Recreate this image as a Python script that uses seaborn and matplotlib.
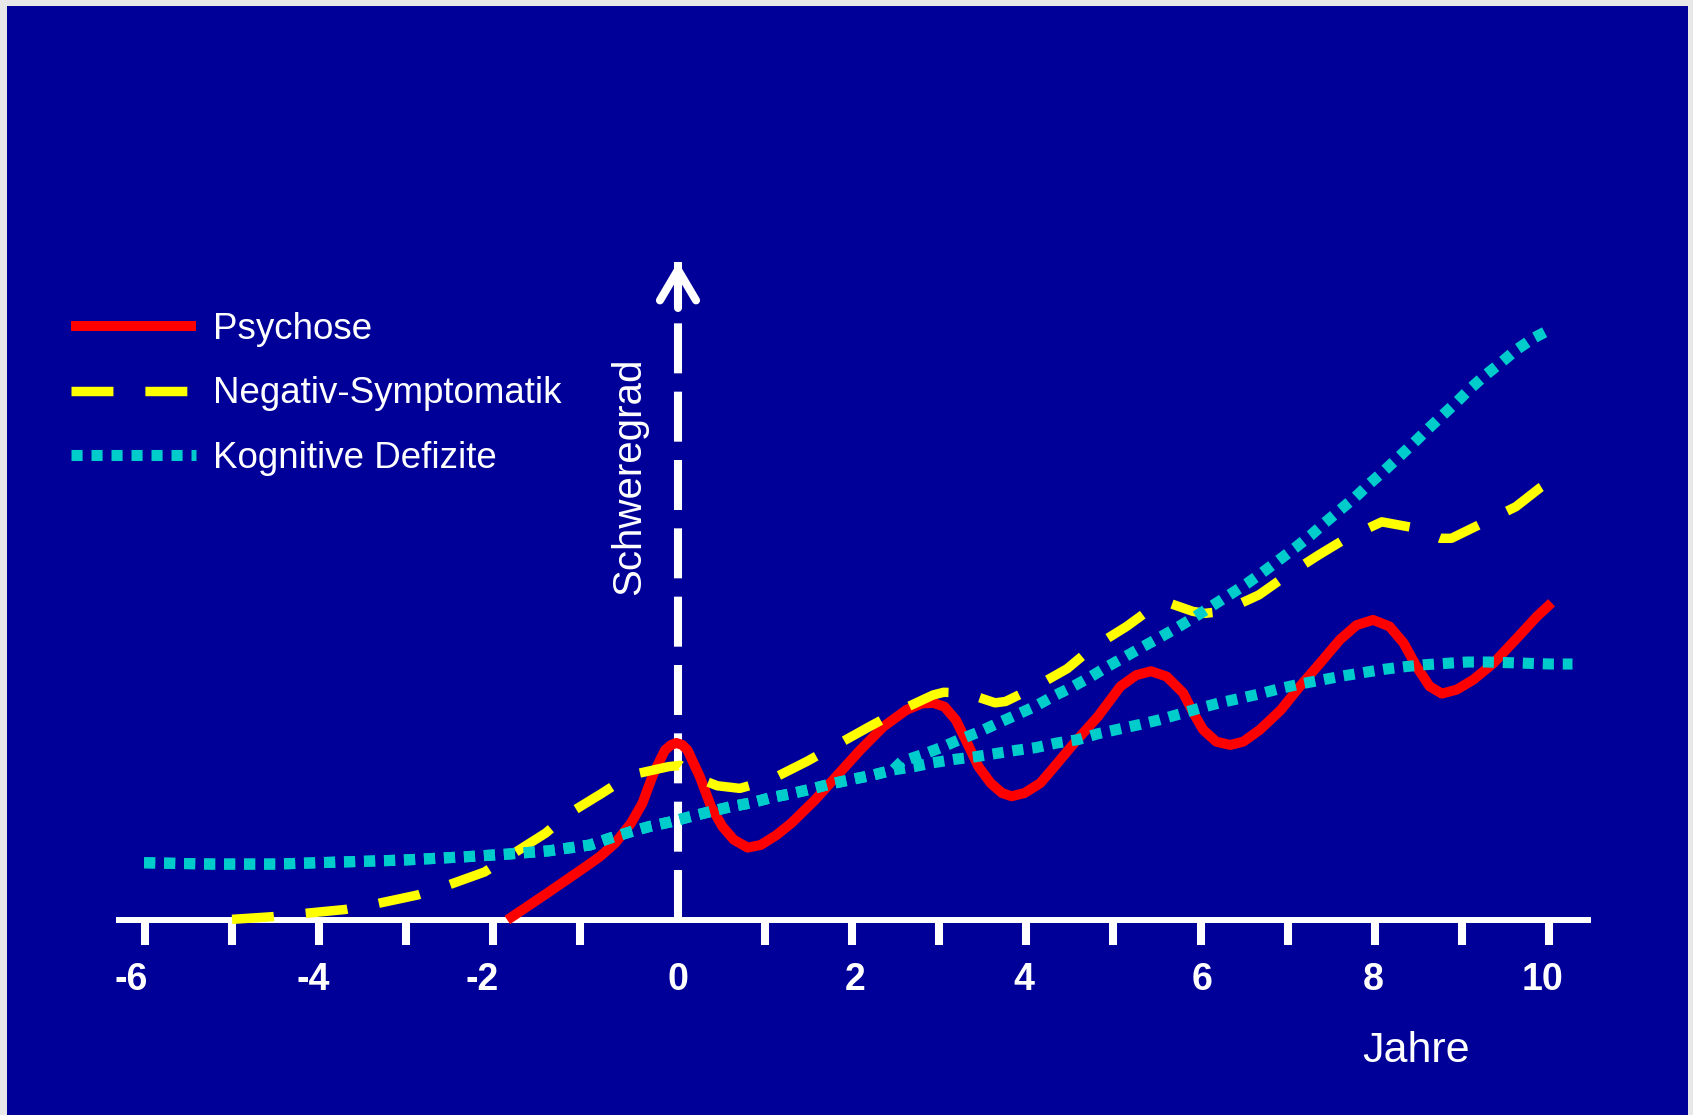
import numpy as np
import pandas as pd
import matplotlib
matplotlib.use("Agg")
import matplotlib.pyplot as plt
from matplotlib.patches import Rectangle
import seaborn as sns

# ---------------- data (years vs. severity, arbitrary units) ----------------
psy_x = [-1.96, -1.50, -1.06, -0.90, -0.72, -0.54, -0.41, -0.28, -0.15, -0.08, -0.02, 0.05,
         0.11, 0.25, 0.38, 0.51, 0.64, 0.80, 0.95, 1.13, 1.30, 1.57, 1.83, 2.09, 2.36,
         2.62, 2.80, 2.93, 3.06, 3.19, 3.32, 3.45, 3.59, 3.72, 3.83, 3.98, 4.16, 4.29,
         4.55, 4.82, 5.08, 5.26, 5.43, 5.61, 5.80, 5.92, 6.03, 6.18, 6.34, 6.49, 6.68,
         6.92, 7.14, 7.37, 7.60, 7.79, 7.98, 8.17, 8.33, 8.48, 8.63, 8.77, 8.94, 9.13,
         9.36, 9.63, 9.86, 10.03]
psy_y = [0.00, 0.41, 0.81, 0.96, 1.17, 1.47, 1.77, 2.23, 2.58, 2.66, 2.69, 2.66,
         2.58, 2.18, 1.72, 1.42, 1.22, 1.10, 1.14, 1.29, 1.47, 1.82, 2.20, 2.58, 2.94,
         3.19, 3.29, 3.30, 3.24, 3.04, 2.69, 2.33, 2.08, 1.93, 1.88, 1.93, 2.08, 2.28,
         2.69, 3.09, 3.55, 3.72, 3.78, 3.70, 3.45, 3.14, 2.89, 2.71, 2.66, 2.71, 2.89,
         3.19, 3.55, 3.90, 4.26, 4.48, 4.56, 4.46, 4.21, 3.85, 3.55, 3.44, 3.50, 3.65,
         3.90, 4.28, 4.61, 4.82]

neg_x = [-5.12, -4.66, -4.29, -3.82, -3.45, -2.99, -2.64, -2.22, -1.89, -1.52, -1.25, -0.88,
         -0.55, -0.11, 0.03, 0.24, 0.45, 0.71, 1.06, 1.48, 1.78, 2.20, 2.51, 2.93, 3.05,
         3.30, 3.64, 3.76, 4.07, 4.47, 4.75, 5.15, 5.43, 5.65, 5.91, 6.05, 6.26, 6.67,
         6.97, 7.36, 7.66, 8.08, 8.41, 8.75, 8.88, 9.19, 9.62, 9.90, 10.16]
neg_y = [0.01, 0.05, 0.10, 0.16, 0.25, 0.38, 0.53, 0.73, 1.01, 1.32, 1.62, 1.92,
         2.20, 2.33, 2.35, 2.15, 2.04, 2.00, 2.13, 2.41, 2.63, 2.94, 3.16, 3.42, 3.46,
         3.45, 3.30, 3.32, 3.52, 3.82, 4.13, 4.46, 4.73, 4.81, 4.69, 4.66, 4.69, 4.94,
         5.22, 5.55, 5.79, 6.05, 5.97, 5.80, 5.80, 6.00, 6.28, 6.57, 6.78]

# cognitive deficits: common course, then two possible courses
cog_common_x = [-6.13, -5.35, -4.62, -3.90, -3.17, -2.45, -1.97, -1.49, -1.01, -0.79, -0.57,
                -0.33, -0.09, 0.14, 0.38, 0.60, 0.84, 1.07, 1.30, 1.53, 1.76, 2.01, 2.23, 2.47]
cog_common_y = [0.87, 0.85, 0.85, 0.88, 0.91, 0.96, 1.00, 1.05, 1.14, 1.24, 1.33,
                1.42, 1.49, 1.57, 1.65, 1.72, 1.78, 1.86, 1.92, 1.99, 2.07, 2.14, 2.20, 2.28]
cog_high_x = [2.57, 2.80, 3.02, 3.23, 3.46, 3.67, 3.89, 4.09, 4.31, 4.51, 4.73, 4.93, 5.12,
              5.32, 5.54, 5.74, 5.94, 6.14, 6.33, 6.53, 6.71, 6.89, 7.08, 7.26, 7.43, 7.60,
              7.78, 7.94, 8.11, 8.28, 8.44, 8.61, 8.77, 8.94, 9.10, 9.27, 9.45, 9.62, 9.82, 10.02]
cog_high_y = [2.41, 2.51, 2.62, 2.74, 2.86, 2.99, 3.12, 3.24, 3.40, 3.53, 3.69, 3.85, 3.99,
              4.14, 4.30, 4.45, 4.61, 4.78, 4.94, 5.11, 5.28, 5.46, 5.65, 5.84, 6.04, 6.23,
              6.43, 6.63, 6.83, 7.04, 7.24, 7.46, 7.66, 7.87, 8.08, 8.28, 8.47, 8.66, 8.84, 8.98]
cog_low_x = [2.71, 2.93, 3.17, 3.41, 3.65, 3.89, 4.11, 4.35, 4.59, 4.82, 5.06, 5.30, 5.52,
             5.76, 5.99, 6.22, 6.46, 6.69, 6.92, 7.16, 7.40, 7.64, 7.87, 8.11, 8.35, 8.58,
             8.82, 9.06, 9.30, 9.54, 9.77, 10.02, 10.27]
cog_low_y = [2.33, 2.39, 2.44, 2.48, 2.53, 2.58, 2.62, 2.69, 2.74, 2.83, 2.90, 2.97, 3.04,
             3.13, 3.22, 3.30, 3.37, 3.44, 3.52, 3.59, 3.65, 3.71, 3.76, 3.81, 3.85, 3.88,
             3.90, 3.92, 3.92, 3.91, 3.90, 3.89, 3.89]

tick_marks = [-6.125, -5.125, -4.125, -3.125, -2.125, -1.125, 0, 1, 2, 3, 4, 5, 6, 7, 8, 9, 10]
label_pos = [-6.28, -4.19, -2.25, 0, 2.03, 3.97, 6.02, 7.98, 9.93]
label_text = ["-6", "-4", "-2", "0", "2", "4", "6", "8", "10"]
series_labels = ["Psychose", "Negativ-Symptomatik", "Kognitive Defizite"]
arrow_top = 10.0

# ---------------- style ----------------
sns.set_style("white")
plt.rcParams['font.family'] = ['Liberation Sans', 'DejaVu Sans']
plt.rcParams['lines.scale_dashes'] = False

BLUE = '#000099'
W, H = 1693, 1115
fig = plt.figure(figsize=(W / 100, H / 100), dpi=100, facecolor='#e8e8e8')
bg = Rectangle((7 / W, 0), (1688 - 7) / W, (H - 6) / H, transform=fig.transFigure,
               facecolor=BLUE, edgecolor='none', zorder=-10)
fig.add_artist(bg)

ax = fig.add_axes([119 / W, (H - 920) / H, (1588 - 119) / W, (920 - 229) / H])
ax.set_zorder(1)
ax.set_facecolor('none')
ax.set_xlim(-6.418, 10.448)
ax.set_ylim(0, 10.5)

# severity axis: dashed arrow at year 0
ax.plot([0, 0], [0, arrow_top], color='white', lw=5.8, linestyle=(0, (36, 13.2)),
        zorder=2, clip_on=False)
ax.annotate('', xy=(0, arrow_top), xytext=(0, arrow_top - 0.7),
            arrowprops=dict(arrowstyle='->, head_length=2.2, head_width=1.3',
                            color='white', lw=5.8, capstyle='round', joinstyle='round',
                            shrinkA=0, shrinkB=0, mutation_scale=10),
            annotation_clip=False, zorder=2)

df_psy = pd.DataFrame({'Jahre': psy_x, 'Schweregrad': psy_y})
df_neg = pd.DataFrame({'Jahre': neg_x, 'Schweregrad': neg_y})
df_cog_a = pd.DataFrame({'Jahre': cog_common_x + cog_high_x,
                         'Schweregrad': cog_common_y + cog_high_y})
df_cog_b = pd.DataFrame({'Jahre': cog_common_x + cog_low_x,
                         'Schweregrad': cog_common_y + cog_low_y})

sns.lineplot(data=df_psy, x='Jahre', y='Schweregrad', ax=ax, color='#ff0000', lw=7.2,
             solid_capstyle='butt', solid_joinstyle='round',
             label=series_labels[0], zorder=4, clip_on=False, estimator=None, sort=False)
sns.lineplot(data=df_neg, x='Jahre', y='Schweregrad', ax=ax, color='#ffff00', lw=6.8,
             linestyle=(0, (30.2, 23)), label=series_labels[1], zorder=5,
             clip_on=False, estimator=None, sort=False)
sns.lineplot(data=df_cog_a, x='Jahre', y='Schweregrad', ax=ax, color='#00cccc', lw=8.0,
             linestyle=(0, (8.0, 6.4)), label=series_labels[2], zorder=6,
             clip_on=False, estimator=None, sort=False)
sns.lineplot(data=df_cog_b, x='Jahre', y='Schweregrad', ax=ax, color='#00cccc', lw=8.0,
             linestyle=(0, (8.0, 6.4)), zorder=6, clip_on=False, estimator=None,
             sort=False, legend=False)

# axes
for s in ['left', 'top', 'right']:
    ax.spines[s].set_visible(False)
ax.spines['bottom'].set_color('white')
ax.spines['bottom'].set_linewidth(4.3)
ax.spines['bottom'].set_zorder(3)
ax.set_yticks([])
# labels on major ticks (no mark), tick marks as minor ticks
ax.set_xticks(label_pos)
ax.set_xticklabels(label_text)
ax.set_xticks(tick_marks, minor=True)
ax.tick_params(axis='x', which='minor', direction='out', length=18, width=5.8,
               color='white', bottom=True)
ax.tick_params(axis='x', which='major', length=0, labelsize=27, labelcolor='white',
               pad=30, bottom=True)
for lab in ax.get_xticklabels():
    lab.set_fontweight('bold')
    lab.set_family(['Liberation Sans Narrow', 'Liberation Sans'])
ax.set_xlabel('')
ax.set_ylabel('')

handles, labels = ax.get_legend_handles_labels()
leg = ax.legend(handles, labels, loc='upper left', bbox_to_anchor=(71 / W, 1 - 312 / H),
                bbox_transform=fig.transFigure, frameon=False, fontsize=26.5,
                handlelength=3.4, handletextpad=0.45, labelspacing=0.8,
                borderpad=0, borderaxespad=0, labelcolor='white')

fig.text(629 / W, 1 - 476.7 / H, 'Schweregrad', rotation=90, ha='center', va='center',
         color='white', fontsize=29)
fig.text(1416.5 / W, 1 - 1061.7 / H, 'Jahre', ha='center', va='baseline',
         color='white', fontsize=31)

fig.savefig('out.png', dpi=100, facecolor=fig.get_facecolor())
